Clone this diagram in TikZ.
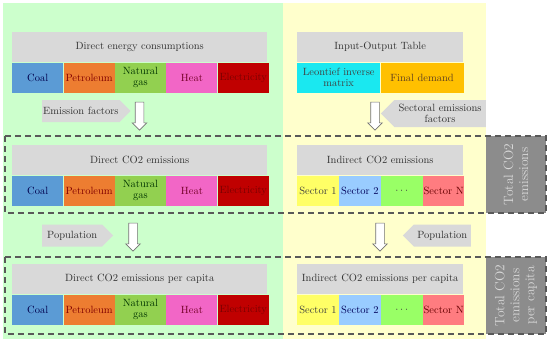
\documentclass[tikz,border=0pt]{standalone}
\usepackage{tikz}
\usetikzlibrary{positioning, shapes.arrows, shapes.symbols}

\definecolor{bggreen}{HTML}{CCFFCC}
\definecolor{bgyellow}{HTML}{FFFFCC}
\definecolor{hdrgray}{HTML}{D9D9D9}
\definecolor{totgray}{HTML}{8C8C8C}
\definecolor{coalc}{HTML}{5B9BD5}
\definecolor{petroc}{HTML}{ED7D31}
\definecolor{gasc}{HTML}{92D050}
\definecolor{heatc}{HTML}{F266C6}
\definecolor{elecc}{HTML}{C00000}
\definecolor{electxt}{HTML}{7A0000}
\definecolor{leonc}{HTML}{1AE8F0}
\definecolor{demc}{HTML}{FFC000}
\definecolor{sec1c}{HTML}{FFFF66}
\definecolor{sec2c}{HTML}{99CCFF}
\definecolor{secdc}{HTML}{99FF66}
\definecolor{secnc}{HTML}{FF7C80}

\tikzset{
  hdr/.style={fill=hdrgray, minimum height=30pt, inner sep=0pt, anchor=north west, text=black!80},
  cell/.style={minimum height=30pt, inner sep=0pt, align=center, font=\fontsize{10.5}{11}\selectfont},
  tag/.style={signal, fill=hdrgray, minimum height=22pt, inner sep=1pt, align=center, text=black!80, font=\fontsize{10.5}{11}\selectfont},
  hollow/.style={single arrow, draw=black!55, fill=white, line width=0.6pt, minimum height=28pt, minimum width=14pt, inner sep=4pt, single arrow head extend=3pt, rotate=-90},
  totbox/.style={fill=totgray, rotate=90, align=center, text=black!15, inner sep=0pt, font=\fontsize{13.5}{15}\selectfont},
  dashbox/.style={draw=black!65, line width=1.1pt, dash pattern=on 6pt off 4pt}
}

\begin{document}
\begin{tikzpicture}[x=1pt, y=-1pt, font=\fontsize{10.5}{11}\selectfont]
\useasboundingbox (0,0) rectangle (550,341);
% backgrounds
\fill[bggreen] (3,3) rectangle (283,339);
\fill[bgyellow] (283,3) rectangle (486,339);

% direct side
\foreach \r/\yy/\t in {a/32/Direct energy consumptions, b/145/Direct CO2 emissions, c/264/Direct CO2 emissions per capita}{
  \node[hdr, minimum width=255pt] (hdr\r) at (12,\yy) {\t};
  \node[cell, minimum width=51pt, fill=coalc, text=blue!30!black, anchor=north west] (coal\r) at (hdr\r.south west) {Coal};
  \node[cell, minimum width=51pt, fill=petroc, text=red!50!black, right=0pt of coal\r] (petro\r) {Petroleum};
  \node[cell, minimum width=51pt, fill=gasc, text=green!20!black, right=0pt of petro\r] (gas\r) {Natural\\gas};
  \node[cell, minimum width=51pt, fill=heatc, text=purple!60!black, right=0pt of gas\r] (heat\r) {Heat};
  \node[cell, minimum width=51pt, fill=elecc, text=electxt, right=0pt of heat\r] (elec\r) {Electricity};
}

% indirect side
\node[hdr, minimum width=166pt] (hdrio) at (297,32) {Input-Output Table};
\node[cell, minimum width=83pt, fill=leonc, text=black!75, anchor=north west] (leon) at (hdrio.south west) {Leontief inverse\\matrix};
\node[cell, minimum width=83pt, fill=demc, text=brown!50!black, right=0pt of leon] (dem) {Final demand};
\foreach \r/\yy/\t in {b/145/Indirect CO2 emissions, c/264/Indirect CO2 emissions per capita}{
  \node[hdr, minimum width=166pt] (ihdr\r) at (297,\yy) {\t};
  \node[cell, minimum width=41.5pt, fill=sec1c, text=black!75, anchor=north west] (sa\r) at (ihdr\r.south west) {Sector 1};
  \node[cell, minimum width=41.5pt, fill=sec2c, text=blue!35!black, right=0pt of sa\r] (sb\r) {Sector 2};
  \node[cell, minimum width=41.5pt, fill=secdc, text=black!75, right=0pt of sb\r] (sd\r) {$\cdots$};
  \node[cell, minimum width=41.5pt, fill=secnc, text=red!40!black, right=0pt of sd\r] (sn\r) {Sector N};
}

% arrows and factors
\node[hollow] (arr1) at (139.5,114) {};
\node[hollow] (arr2) at (133,235) {};
\node[hollow] (arr3) at (375,114) {};
\node[hollow] (arr4) at (380,235) {};
\node[tag, signal to=east, minimum width=86pt, anchor=west] (efac) at (42,111) {Emission factors};
\node[tag, signal to=east, minimum width=71pt, anchor=west] (popa) at (42,235.5) {Population};
\node[tag, signal to=west, minimum width=105pt, minimum height=27pt, anchor=east] (sfac) at (486,113.5) {Sectoral emissions\\factors};
\node[tag, signal to=west, minimum width=68pt, anchor=east] (popb) at (471,235.5) {Population};

% totals
\node[totbox, minimum width=77pt, minimum height=60pt] (tot1) at (516,174.5) {Total CO2\\emissions};
\node[totbox, minimum width=77pt, minimum height=60pt] (tot2) at (516,295.5) {Total CO2\\emissions\\per capita};
\draw[dashbox] (5,136) rectangle (546,213);
\draw[dashbox] (5,257) rectangle (546,334);
\end{tikzpicture}
\end{document}
